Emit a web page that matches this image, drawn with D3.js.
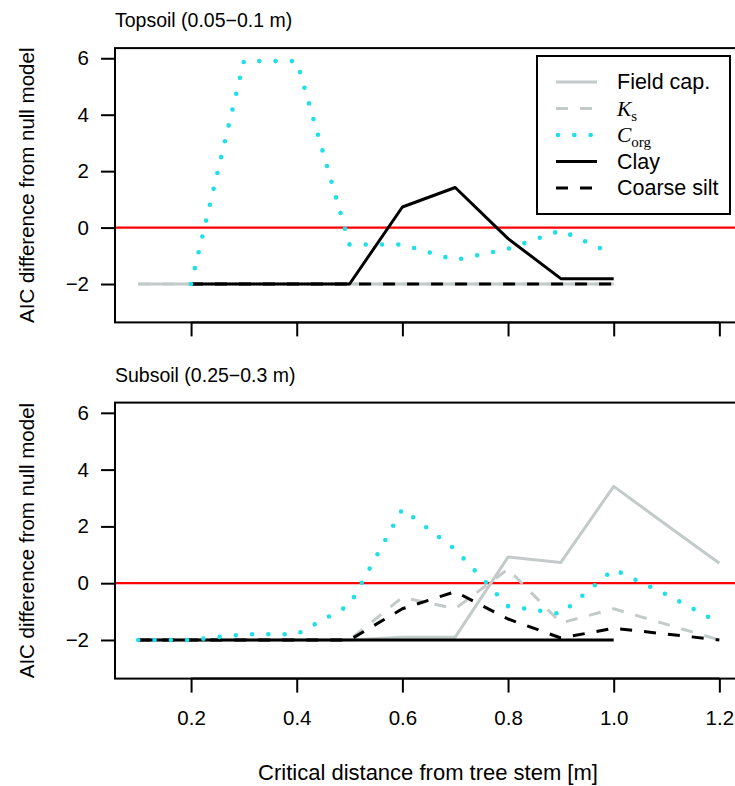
<!DOCTYPE html>
<html>
<head>
<meta charset="utf-8">
<script src="https://cdn.jsdelivr.net/npm/d3@7"></script>
<style>
  html, body { margin: 0; padding: 0; background: #fff; }
  svg { display: block; }
  text { font-family: "Liberation Sans", Arial, sans-serif; fill: #000; }
</style>
</head>
<body>
<svg id="chart" width="735" height="786"></svg>
<script>
// ---- data ----
const distances = [0.1, 0.2, 0.3, 0.4, 0.5, 0.6, 0.7, 0.8, 0.9, 1.0, 1.1, 1.2];
const xTicks = [0.2, 0.4, 0.6, 0.8, 1.0, 1.2];
const yTicks = [-2, 0, 2, 4, 6];
const panelTitles = ["Topsoil (0.05\u22120.1 m)", "Subsoil (0.25\u22120.3 m)"];
const seriesNames = ["Field cap.", "Ks", "Corg", "Clay", "Coarse silt"];

// Topsoil (null = no value)
const topFieldCap   = [-2, -2, -2, -2, -2, -2, -2, -2, -2, -2, null, null];
const topKs         = [-2, -2, -2, -2, -2, -2, -2, -2, -2, -2, null, null];
const topCorg       = [null, -2, 5.9, 5.9, -0.6, -0.6, -1.15, -0.75, -0.1, -0.95, null, null];
const topClay       = [null, -2, -2, -2, -2, 0.73, 1.42, -0.39, -1.81, -1.81, null, null];
const topCoarseSilt = [null, -2, -2, -2, -2, -2, -2, -2, -2, -2, null, null];

// Subsoil
const subFieldCap   = [-2, -2, -2, -2, -2, -1.9, -1.9, 0.92, 0.73, 3.41, 2.05, 0.7];
const subKs         = [-2, -2, -2, -2, -2, -0.5, -0.9, 0.5, -1.4, -0.9, -1.45, -2];
const subCorg       = [-2, -2, -1.8, -1.8, -0.77, 2.61, 1.19, -0.81, -1.08, 0.49, -0.4, -1.4];
const subClay       = [-2, -2, -2, -2, -2, -2, -2, -2, -2, -2, null, null];
const subCoarseSilt = [-2, -2, -2, -2, -2, -0.9, -0.3, -1.26, -1.93, -1.59, -1.79, -2];

// ---- styles ----
const GREY = "#c3caca", CYAN = "#1fe0e6";
const styles = {
  "Field cap.":  {color: GREY,   dash: null,   cap: "butt"},
  "Ks":          {color: GREY,   dash: "12 12", cap: "butt"},
  "Corg":        {color: CYAN,   dash: "0 16.3", cap: "round"},
  "Clay":        {color: "#000", dash: null,   cap: "butt"},
  "Coarse silt": {color: "#000", dash: "12 12", cap: "butt"}
};

const svg = d3.select("#chart");
const x = d3.scaleLinear().domain([0.056, 1.244]).range([115, 742.6]);

const panels = [
  {title: panelTitles[0], top: 48.1, bottom: 322.4, showXLabels: false,
   series: {"Field cap.": topFieldCap, "Ks": topKs, "Corg": topCorg, "Clay": topClay, "Coarse silt": topCoarseSilt}},
  {title: panelTitles[1], top: 402.6, bottom: 678.6, showXLabels: true,
   series: {"Field cap.": subFieldCap, "Ks": subKs, "Corg": subCorg, "Clay": subClay, "Coarse silt": subCoarseSilt}}
];

const drawOrder = ["Field cap.", "Ks", "Clay", "Coarse silt", "Corg"];

panels.forEach((p, pi) => {
  const y = d3.scaleLinear().domain([-3.36, 6.36]).range([p.bottom, p.top]);
  const g = svg.append("g");
  const clipId = "clip" + pi;
  svg.append("clipPath").attr("id", clipId).append("rect")
    .attr("x", x.range()[0]).attr("y", p.top)
    .attr("width", x.range()[1] - x.range()[0]).attr("height", p.bottom - p.top);

  const plot = g.append("g").attr("clip-path", `url(#${clipId})`);
  // reference line at 0
  plot.append("line")
    .attr("x1", x.range()[0]).attr("x2", x.range()[1])
    .attr("y1", y(0)).attr("y2", y(0))
    .attr("stroke", "#ff0000").attr("stroke-width", 2.2);

  const line = d3.line().defined(d => d.v !== null).x(d => x(d.x)).y(d => y(d.v));
  drawOrder.forEach(name => {
    const vals = p.series[name];
    const data = distances.map((d, i) => ({x: d, v: vals[i]}));
    const s = styles[name];
    plot.append("path")
      .datum(data)
      .attr("d", line)
      .attr("fill", "none")
      .attr("stroke", s.color)
      .attr("stroke-width", name === "Corg" ? 4.6 : 3)
      .attr("stroke-linecap", s.cap)
      .attr("stroke-linejoin", "round")
      .attr("stroke-dasharray", s.dash);
  });

  // box
  g.append("rect")
    .attr("x", x.range()[0]).attr("y", p.top)
    .attr("width", x.range()[1] - x.range()[0]).attr("height", p.bottom - p.top)
    .attr("fill", "none").attr("stroke", "#000").attr("stroke-width", 2);

  // y axis
  const yAxis = d3.axisLeft(y).tickValues(yTicks).tickSize(14).tickPadding(12)
    .tickFormat(d => d < 0 ? "\u2212" + Math.abs(d) : String(d));
  const ya = g.append("g").attr("transform", `translate(${x.range()[0]},0)`).call(yAxis);
  ya.select(".domain").attr("stroke", "#000").attr("stroke-width", 2)
    .attr("d", `M0,${y(-2)}V${y(6)}`);
  ya.selectAll(".tick line").attr("stroke", "#000").attr("stroke-width", 2);
  ya.selectAll(".tick text").style("font-size", "20.5px").style("font-family", "Liberation Sans, Arial, sans-serif").attr("fill", "#000");

  // x axis
  const xAxis = d3.axisBottom(x).tickValues(xTicks).tickSize(14).tickPadding(18)
    .tickFormat(p.showXLabels ? d3.format(".1f") : () => "");
  const xa = g.append("g").attr("transform", `translate(0,${p.bottom})`).call(xAxis);
  xa.select(".domain").attr("stroke", "#000").attr("stroke-width", 2)
    .attr("d", `M${x(0.2)},0H${x(1.2)}`);
  xa.selectAll(".tick line").attr("stroke", "#000").attr("stroke-width", 2);
  xa.selectAll(".tick text").style("font-size", "20.5px").style("font-family", "Liberation Sans, Arial, sans-serif").attr("fill", "#000");

  // panel title
  svg.append("text").attr("x", 115).attr("y", p.top - 21)
    .style("font-size", "19.5px").text(p.title);

  // y title
  svg.append("text")
    .attr("transform", `translate(34,${(p.top + p.bottom) / 2}) rotate(-90)`)
    .attr("text-anchor", "middle")
    .style("font-size", "20.5px")
    .text("AIC difference from null model");
});

// x title
svg.append("text").attr("x", 428).attr("y", 780).attr("text-anchor", "middle")
  .style("font-size", "22px").text("Critical distance from tree stem [m]");

// legend
const lg = svg.append("g");
lg.append("rect").attr("x", 537).attr("y", 56).attr("width", 193).attr("height", 158)
  .attr("fill", "#fff").attr("stroke", "#000").attr("stroke-width", 2);
const legendY = d3.scalePoint().domain(seriesNames).range([82, 188]);
seriesNames.forEach(name => {
  const s = styles[name];
  const yy = legendY(name);
  lg.append("line").attr("x1", name === "Corg" ? 558 : 556).attr("x2", 597)
    .attr("y1", yy).attr("y2", yy)
    .attr("stroke", s.color).attr("stroke-width", name === "Corg" ? 4.6 : 3)
    .attr("stroke-linecap", s.cap).attr("stroke-dasharray", s.dash);
  const t = lg.append("text").attr("x", 617).attr("y", yy + 7).style("font-size", "21.5px");
  if (name === "Ks" || name === "Corg") {
    const main = name === "Ks" ? "K" : "C";
    const sub = name === "Ks" ? "s" : "org";
    t.append("tspan").style("font-family", "Liberation Serif, Times New Roman, serif")
      .style("font-style", "italic").text(main);
    t.append("tspan").style("font-family", "Liberation Serif, Times New Roman, serif")
      .style("font-size", "15px").attr("dy", 5).text(sub);
  } else {
    t.text(name);
  }
});
</script>
</body>
</html>
